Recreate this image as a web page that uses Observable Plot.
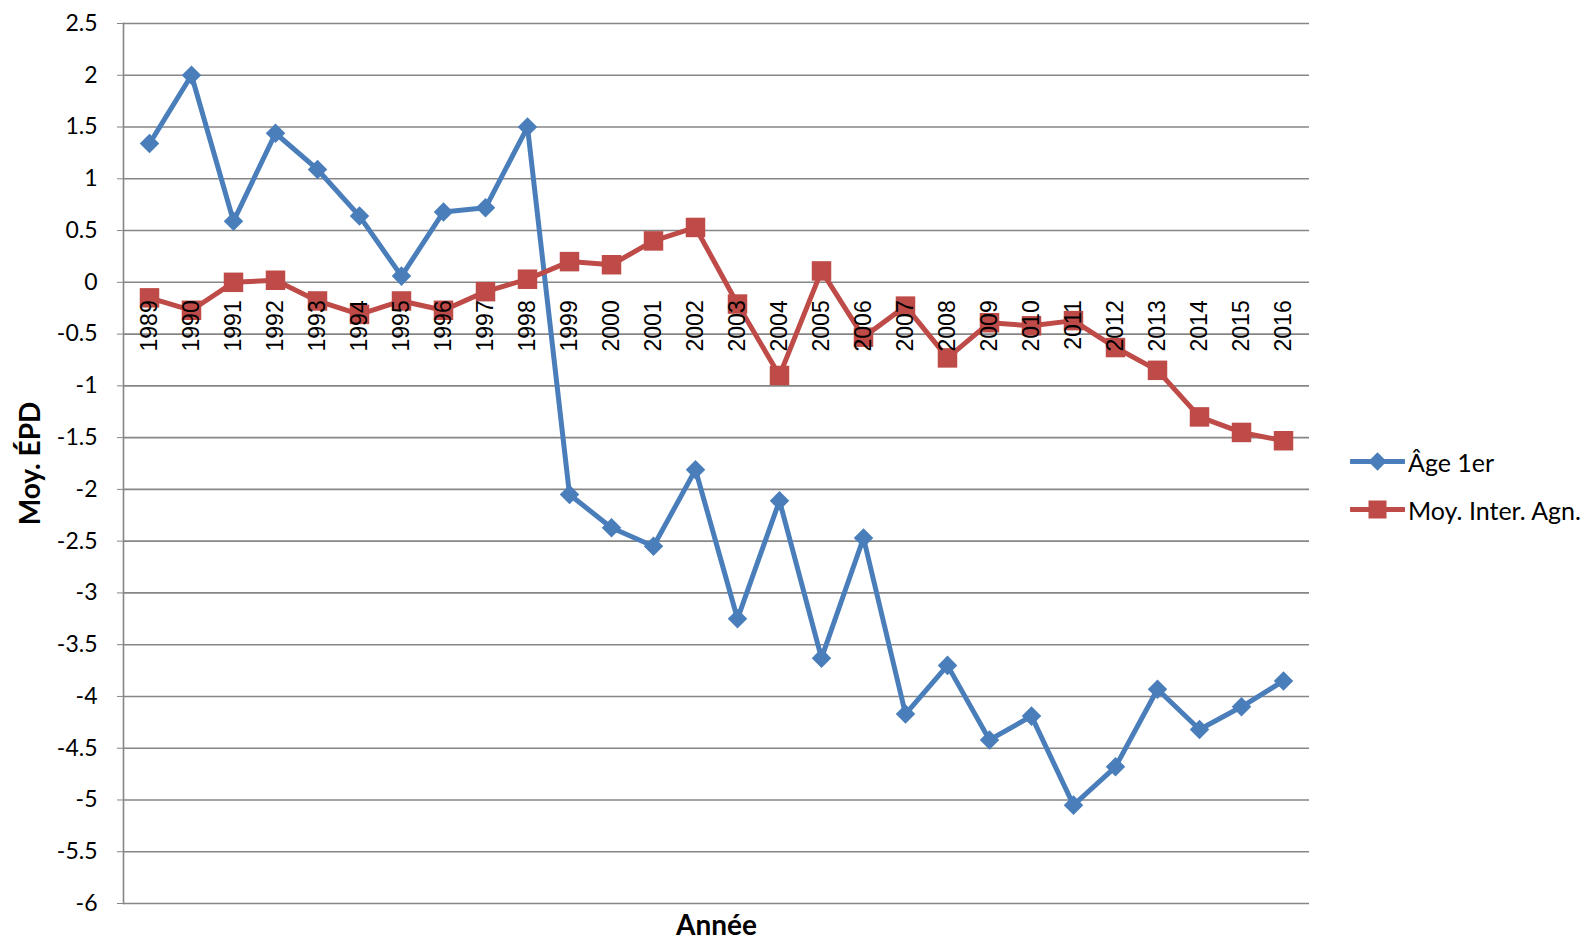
<!DOCTYPE html>
<html><head><meta charset="utf-8">
<script src="https://cdn.jsdelivr.net/npm/d3@7"></script>
<script src="https://cdn.jsdelivr.net/npm/@observablehq/plot@0.6"></script>
<style>
body{margin:0;background:#fff;}
#wrap{position:relative;width:1585px;height:940px;}
.leg{position:absolute;left:1350px;height:30px;display:flex;align-items:center;font-family:Lato,sans-serif;font-size:25px;color:#000;white-space:nowrap;}
.leg svg{margin-right:3px;}
</style></head><body><div id="wrap"></div>
<script>
const years = ["1989","1990","1991","1992","1993","1994","1995","1996","1997","1998","1999","2000","2001","2002","2003","2004","2005","2006","2007","2008","2009","2010","2011","2012","2013","2014","2015","2016"];
const ageValues = [1.34,2.0,0.59,1.44,1.09,0.64,0.06,0.68,0.72,1.5,-2.05,-2.37,-2.55,-1.81,-3.25,-2.11,-3.63,-2.47,-4.17,-3.7,-4.42,-4.19,-5.05,-4.68,-3.93,-4.32,-4.1,-3.85];
const interValues = [-0.15,-0.27,0.0,0.02,-0.18,-0.31,-0.18,-0.27,-0.09,0.03,0.2,0.17,0.4,0.53,-0.21,-0.9,0.11,-0.53,-0.23,-0.73,-0.39,-0.42,-0.37,-0.63,-0.85,-1.3,-1.45,-1.53];
const yTicks = [2.5,2,1.5,1,0.5,0,-0.5,-1,-1.5,-2,-2.5,-3,-3.5,-4,-4.5,-5,-5.5,-6];
const seriesNames = ["Âge 1er","Moy. Inter. Agn."];
const colors = ["#4A7EBB","#BE4B48"];

const ageData = years.map((y,i)=>({year:y, value:ageValues[i]}));
const interData = years.map((y,i)=>({year:y, value:interValues[i]}));

const chart = Plot.plot({
  width: 1585,
  height: 940,
  marginLeft: 123,
  marginRight: 276,
  marginTop: 23,
  marginBottom: 37,
  style: {background: "#fff"},
  x: {type: "point", domain: years, padding: 0.5, axis: null},
  y: {domain: [-6, 2.5], axis: null},
  marks: [
    Plot.ruleY(yTicks, {stroke: "#868686", strokeWidth: 1.6}),
    Plot.frame({anchor: "left", stroke: "#868686", strokeWidth: 1.6}),
    Plot.axisY({ticks: yTicks, tickFormat: d => String(d), tickSize: 6, tickPadding: 20, stroke: "#868686", fontSize: 23, fontFamily: "Lato", label: null, color: "#000"}),
    Plot.line(ageData, {x: "year", y: "value", stroke: colors[0], strokeWidth: 5}),
    Plot.dot(ageData, {x: "year", y: "value", symbol: "square", rotate: 45, r: 7.8, fill: colors[0]}),
    Plot.line(interData, {x: "year", y: "value", stroke: colors[1], strokeWidth: 5}),
    Plot.dot(interData, {x: "year", y: "value", symbol: "square", r: 11, fill: colors[1]}),
    Plot.text(years, {x: d => d, y: () => 0, text: d => d, rotate: -90, textAnchor: "end", dy: 18, fontSize: 23, fontFamily: "Liberation Sans", fill: "#000"}),
    Plot.text(["Moy. ÉPD"], {frameAnchor: "left", textAnchor: "middle", lineAnchor: "middle", rotate: -90, dx: -92, fontSize: 28, fontWeight: "bold", fontFamily: "Lato", fill: "#000"}),
    Plot.text(["Année"], {frameAnchor: "bottom", textAnchor: "middle", lineAnchor: "middle", dy: 23, fontSize: 28, fontWeight: "bold", fontFamily: "Lato", fill: "#000"})
  ]
});
const wrap = document.getElementById("wrap");
wrap.appendChild(chart);

const legTops = [447, 495];
seriesNames.forEach((name, i) => {
  const div = document.createElement("div");
  div.className = "leg";
  div.style.top = legTops[i] + "px";
  const marker = i === 0
    ? `<rect x="21" y="8" width="13" height="13" fill="${colors[0]}" transform="rotate(45 27.5 14.5)"/>`
    : `<rect x="18.5" y="5.5" width="18" height="18" fill="${colors[1]}"/>`;
  div.innerHTML = `<svg width="55" height="30"><line x1="1" y1="14.5" x2="54" y2="14.5" stroke="${colors[i]}" stroke-width="5" stroke-linecap="round"/>${marker}</svg><span>${name}</span>`;
  wrap.appendChild(div);
});
</script>
</body></html>
